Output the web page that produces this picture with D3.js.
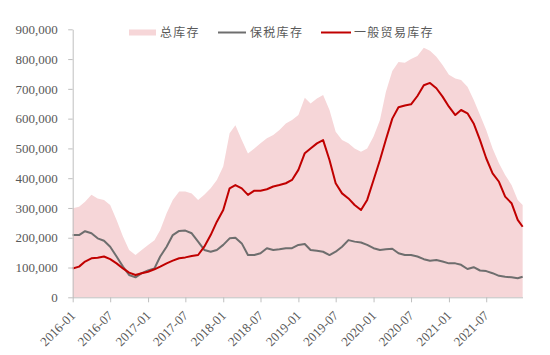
<!DOCTYPE html>
<html><head><meta charset="utf-8">
<script src="https://cdn.jsdelivr.net/npm/d3@7/dist/d3.min.js"></script>
<style>body{margin:0;background:#fff;}svg{display:block;}</style>
</head><body><svg id="c" width="550" height="355"></svg>
<script>
const dates = ["2016-01-01","2016-02-01","2016-03-01","2016-04-01","2016-05-01","2016-06-01","2016-07-01","2016-08-01","2016-09-01","2016-10-01","2016-11-01","2016-12-01",
"2017-01-01","2017-02-01","2017-03-01","2017-04-01","2017-05-01","2017-06-01","2017-07-01","2017-08-01","2017-09-01","2017-10-01","2017-11-01","2017-12-01",
"2018-01-01","2018-02-01","2018-03-01","2018-04-01","2018-05-01","2018-06-01","2018-07-01","2018-08-01","2018-09-01","2018-10-01","2018-11-01","2018-12-01",
"2019-01-01","2019-02-01","2019-03-01","2019-04-01","2019-05-01","2019-06-01","2019-07-01","2019-08-01","2019-09-01","2019-10-01","2019-11-01","2019-12-01",
"2020-01-01","2020-02-01","2020-03-01","2020-04-01","2020-05-01","2020-06-01","2020-07-01","2020-08-01","2020-09-01","2020-10-01","2020-11-01","2020-12-01",
"2021-01-01","2021-02-01","2021-03-01","2021-04-01","2021-05-01","2021-06-01","2021-07-01","2021-08-01","2021-09-01","2021-10-01","2021-11-01","2021-12-01","2021-12-25"];
const total = [299,304,321,344,332,327,310,260,204,159,142,159,
176,192,226,282,327,355,355,349,327,344,366,394,
439,551,578,528,483,500,517,534,545,562,584,595,
612,670,651,668,679,629,556,528,517,500,489,500,
540,595,690,760,790,788,800,810,838,828,808,780,
747,735,730,707,663,612,562,500,450,411,377,327,310].map(v=>v*1000);
const bonded = [209,209,222,215,198,190,170,137,103,75,67,81,
90,97,137,170,209,223,224,215,187,159,153,159,
176,198,200,181,142,142,148,165,159,161,165,165,
176,179,159,156,153,142,153,170,192,187,184,176,
165,159,161,163,148,142,142,137,128,123,125,120,
114,114,109,95,101,90,88,81,72,69,67,64,69].map(v=>v*1000);
const general = [97,103,120,131,133,137,128,114,97,83,75,81,
86,94,103,114,123,131,134,139,142,170,209,254,
293,366,377,366,344,358,358,363,372,377,383,394,
428,484,500,517,528,461,383,349,332,310,293,327,
394,461,530,600,638,644,648,676,712,720,702,674,
640,612,629,618,584,528,467,416,388,338,316,260,237].map(v=>v*1000);
const yTicks = [0,100000,200000,300000,400000,500000,600000,700000,800000,900000];
const xTickLabels = ["2016-01","2016-07","2017-01","2017-07","2018-01","2018-07","2019-01","2019-07","2020-01","2020-07","2021-01","2021-07"];
const seriesNames = ["总库存","保税库存","一般贸易库存"];

const parse = d3.timeParse("%Y-%m-%d");
const data = dates.map((d,i)=>({date:parse(d), total:total[i], bonded:bonded[i], general:general[i]}));
const svg = d3.select("#c");
const x = d3.scaleTime().domain([parse("2016-01-01"), parse("2022-01-01")]).range([72.7, 524.1]);
const y = d3.scaleLinear().domain([0,900000]).range([297.3, 29.3]);
const axisColor = "#bfbfbf", textColor = "#595959";
const serif = "'Liberation Serif','Times New Roman',serif";
const cjk = "'Noto Sans CJK SC','Noto Sans CJK JP',sans-serif";

svg.append("path").datum(data)
  .attr("fill","#f6d6d8")
  .attr("d", d3.area().x(d=>x(d.date)).y0(y(0)).y1(d=>y(d.total)));

svg.append("path").datum(data).attr("fill","none").attr("stroke","#6e6e6e").attr("stroke-width",2)
  .attr("stroke-linejoin","round")
  .attr("d", d3.line().x(d=>x(d.date)).y(d=>y(d.bonded)));
svg.append("path").datum(data).attr("fill","none").attr("stroke","#c00000").attr("stroke-width",2)
  .attr("stroke-linejoin","round")
  .attr("d", d3.line().x(d=>x(d.date)).y(d=>y(d.general)));

// y axis
const yAxis = d3.axisLeft(y).tickValues(yTicks).tickSize(4.5).tickSizeOuter(0).tickFormat(d3.format(","));
const gy = svg.append("g").attr("transform","translate(72.7,0)").call(yAxis);
gy.select(".domain").attr("stroke",axisColor);
gy.selectAll(".tick line").attr("stroke",axisColor);
gy.selectAll("text").attr("fill",textColor).style("font-family",serif).style("font-size","13px").attr("x",-15);

// x axis
const xt = xTickLabels.map(s=>d3.timeParse("%Y-%m")(s));
const xAxis = d3.axisBottom(x).tickValues(xt).tickSize(5).tickSizeOuter(0).tickFormat(d3.timeFormat("%Y-%m"));
const gx = svg.append("g").attr("transform","translate(0,297.3)").call(xAxis);
gx.select(".domain").attr("stroke",axisColor).attr("d","M72.7,0.5H523");
gx.selectAll(".tick line").attr("stroke",axisColor);
gx.selectAll("text").attr("fill",textColor).style("font-family",serif).style("font-size","13px")
  .attr("text-anchor","end").attr("dy","0").attr("y",0).attr("x",0)
  .attr("transform","translate(3,19) rotate(-45)");

// legend
const lg = svg.append("g");
lg.append("rect").attr("x",129).attr("y",29.5).attr("width",27).attr("height",6).attr("fill","#f6d6d8");
lg.append("line").attr("x1",218).attr("x2",246).attr("y1",32.5).attr("y2",32.5).attr("stroke","#6e6e6e").attr("stroke-width",2);
lg.append("line").attr("x1",321).attr("x2",351).attr("y1",32.5).attr("y2",32.5).attr("stroke","#c00000").attr("stroke-width",2);
const lx = [160,250,354];
seriesNames.forEach((n,i)=>{
  lg.append("text").attr("x",lx[i]).attr("y",32.5).attr("dy","0.35em").text(n)
    .attr("fill",textColor).style("font-family",cjk).style("font-size","12px").style("letter-spacing","1.3px");
});
</script></body></html>
